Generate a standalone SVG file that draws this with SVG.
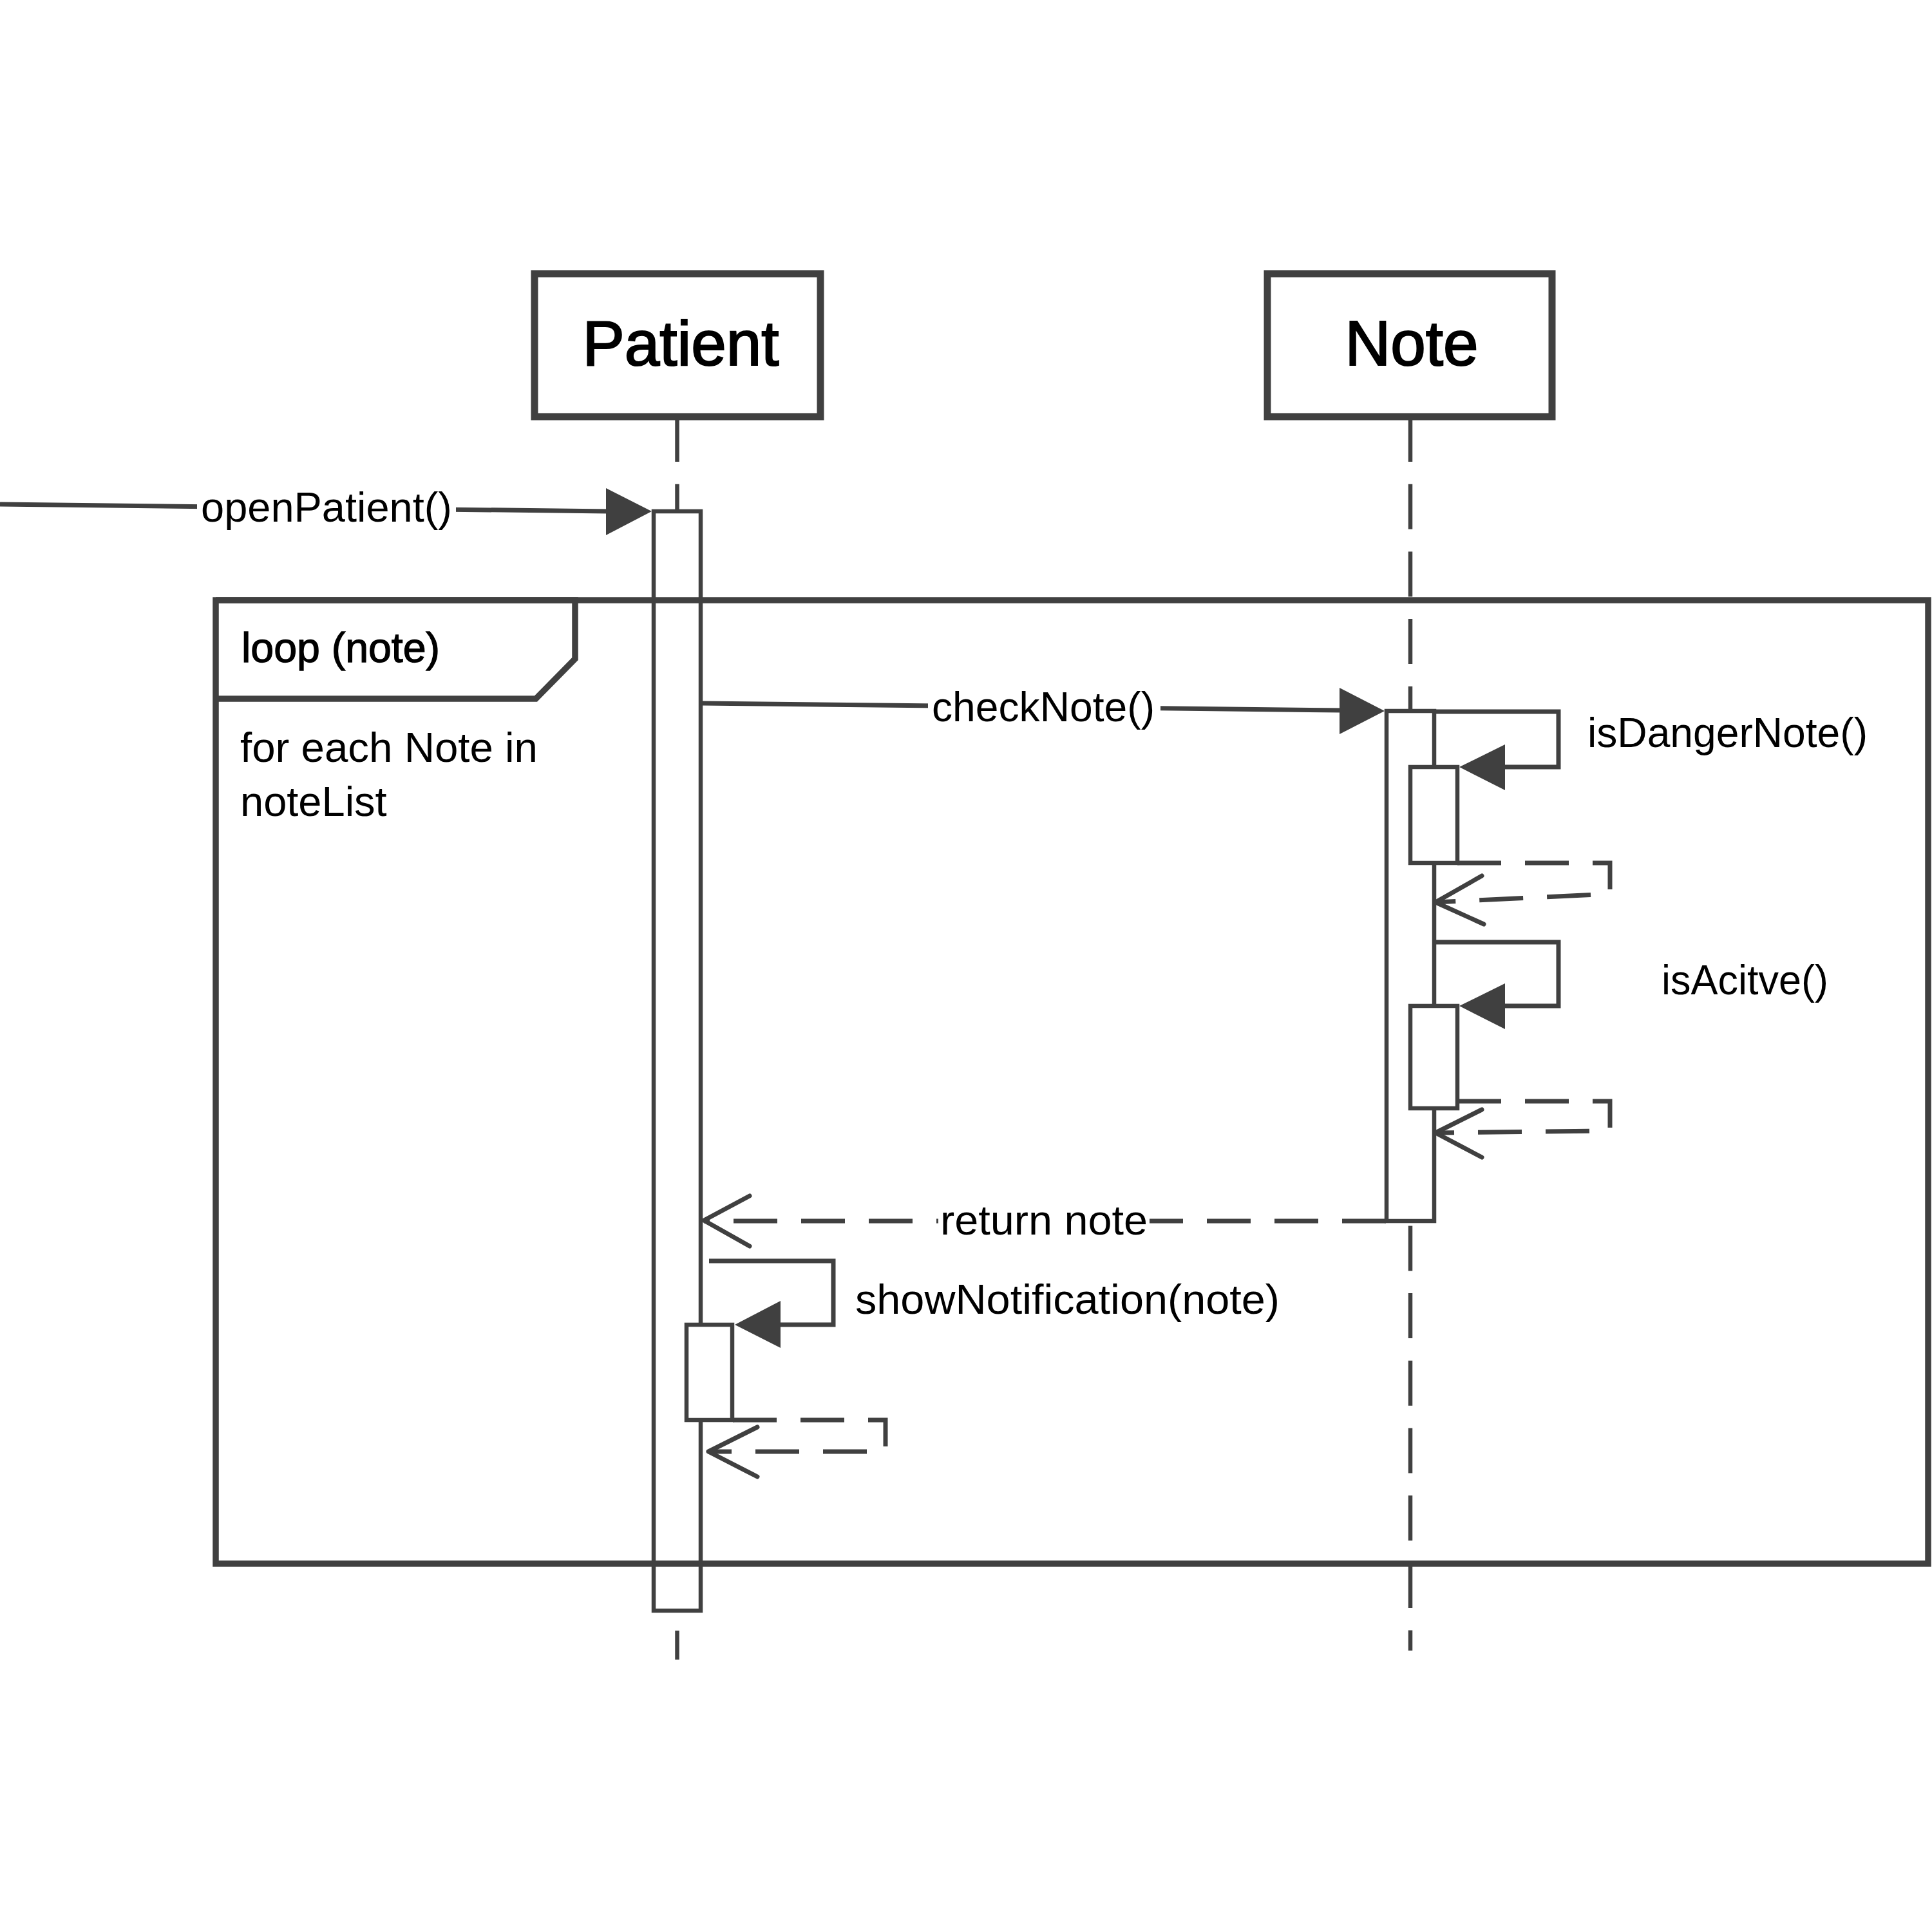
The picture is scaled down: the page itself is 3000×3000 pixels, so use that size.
<svg xmlns="http://www.w3.org/2000/svg" width="3000" height="3000" viewBox="0 0 3000 3000">
<style>
  .box { fill: #fff; stroke: #404040; stroke-width: 11; }
  .title { font-family: "Liberation Sans", Arial, sans-serif; font-size: 98px; fill: #000; stroke: #000; stroke-width: 2.2; text-anchor: middle; }
  .life { stroke: #404040; stroke-width: 6.5; fill: none; }
  .dash { stroke-dasharray: 70 34.7; }
  .bar { fill: #fff; stroke: #404040; stroke-width: 6.5; }
  .frame { fill: none; stroke: #404040; stroke-width: 9.5; }
  .tag { font-family: "Liberation Sans", Arial, sans-serif; font-size: 64px; fill: #000; stroke: #000; stroke-width: 1.3; }
  .guard { font-family: "Liberation Sans", Arial, sans-serif; font-size: 65px; fill: #000; }
  .msg { fill: none; stroke: #404040; stroke-width: 7; }
  .ret { fill: none; stroke: #404040; stroke-width: 7; stroke-dasharray: 68 37; }
  .head { fill: #404040; stroke: none; }
  .open { fill: none; stroke: #404040; stroke-width: 7; stroke-linecap: round; stroke-linejoin: round; }
  .lbl { font-family: "Liberation Sans", Arial, sans-serif; font-size: 65px; fill: #000; }
  .bg { fill: #fff; stroke: none; }
</style>
<rect width="3000" height="3000" fill="#fff"/>

<g id="lifelines">
  <line class="life dash" x1="1051.5" y1="647" x2="1051.5" y2="794"/>
  <line class="life" x1="1051.5" y1="2532" x2="1051.5" y2="2577"/>
  <line class="life dash" x1="2190" y1="647" x2="2190" y2="2563"/>
</g>

<g id="node-patient">
  <rect class="box" x="830" y="425" width="444" height="222"/>
  <text class="title" x="1057" y="567">Patient</text>
</g>
<g id="node-note">
  <rect class="box" x="1968" y="425" width="442" height="222"/>
  <text class="title" x="2192" y="567">Note</text>
</g>

<g id="activations">
  <rect class="bar" x="1015" y="794" width="73" height="1707"/>
  <rect class="bar" x="2153" y="1104" width="74" height="792"/>
  <rect class="bar" x="2190" y="1191" width="73" height="149"/>
  <rect class="bar" x="2190" y="1562" width="73" height="159"/>
  <rect class="bar" x="1066" y="2057" width="71" height="148"/>
</g>

<g id="loop-frame">
  <rect class="frame" x="335" y="932" width="2659" height="1496"/>
  <path class="frame" d="M335,932 H893 V1023 L832,1085 H335"/>
  <text class="tag" x="375" y="1028" textLength="308" lengthAdjust="spacingAndGlyphs">loop (note)</text>
  <text class="guard" x="373" y="1183" textLength="462" lengthAdjust="spacingAndGlyphs">for each Note in</text>
  <text class="guard" x="373" y="1267">noteList</text>
</g>

<g id="connectors">
  <!-- openPatient -->
  <path class="msg" d="M0,783 L945,794"/>
  <polygon class="head" points="1012,794 941,758 941,831"/>
  <rect class="bg" x="306" y="755" width="402" height="75"/>
  <text class="lbl" x="312" y="810" textLength="390" lengthAdjust="spacingAndGlyphs">openPatient()</text>

  <!-- checkNote -->
  <path class="msg" d="M1090,1092 L2084,1103"/>
  <polygon class="head" points="2150,1104 2080,1068 2080,1140"/>
  <rect class="bg" x="1441" y="1062" width="361" height="75"/>
  <text class="lbl" x="1447" y="1120" textLength="346" lengthAdjust="spacingAndGlyphs">checkNote()</text>

  <!-- isDangerNote -->
  <path class="msg" d="M2227,1105 H2420 V1191 H2300"/>
  <polygon class="head" points="2266,1191 2337,1156 2337,1227"/>
  <text class="lbl" x="2465" y="1160" textLength="435" lengthAdjust="spacingAndGlyphs">isDangerNote()</text>
  <path class="ret" d="M2263,1340 H2500 V1388 L2229,1401"/>
  <polyline class="open" points="2301,1360 2229,1401 2304,1435"/>

  <!-- isAcitve -->
  <path class="msg" d="M2227,1463 H2420 V1562 H2300"/>
  <polygon class="head" points="2266,1562 2337,1527 2337,1598"/>
  <text class="lbl" x="2580" y="1544" textLength="259" lengthAdjust="spacingAndGlyphs">isAcitve()</text>
  <path class="ret" d="M2263,1710 H2500 V1756 L2229,1759"/>
  <polyline class="open" points="2301,1723 2229,1759 2301,1797"/>

  <!-- return note -->
  <path class="ret" d="M2152,1896 H1093"/>
  <polyline class="open" points="1164,1857 1093,1895 1164,1935"/>
  <rect class="bg" x="1457" y="1865" width="328" height="70"/>
  <text class="lbl" x="1460" y="1917" textLength="322" lengthAdjust="spacingAndGlyphs">return note</text>

  <!-- showNotification -->
  <path class="msg" d="M1101,1958 H1294 V2057 H1180"/>
  <polygon class="head" points="1141,2057 1212,2020 1212,2093"/>
  <text class="lbl" x="1328" y="2040" textLength="659" lengthAdjust="spacingAndGlyphs">showNotification(note)</text>
  <path class="ret" d="M1138,2205 H1375 V2254 H1100"/>
  <polyline class="open" points="1176,2216 1100,2254 1176,2293"/>
</g>
</svg>
